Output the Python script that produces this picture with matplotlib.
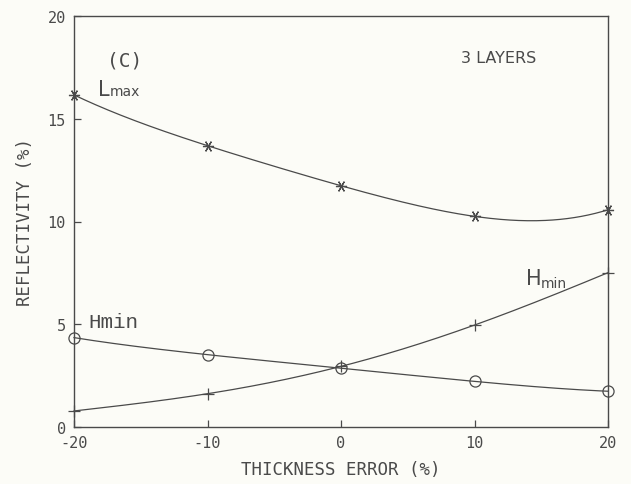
import numpy as np
import matplotlib
matplotlib.use("Agg")
import matplotlib.pyplot as plt

# Data
thickness_error = [-20, -10, 0, 10, 20]
lmax_values = [16.16, 13.69, 11.74, 10.25, 10.57]
hmin_circle_values = [4.35, 3.52, 2.86, 2.22, 1.74]
hmin_plus_values = [0.78, 1.62, 2.95, 4.96, 7.51]
x_ticks = [-20, -10, 0, 10, 20]
y_ticks = [0, 5, 10, 15, 20]

BG = '#fcfcf7'
INK = '#4a4a4a'
MONO = 'DejaVu Sans Mono'

fig = plt.figure(figsize=(6.31, 4.85), dpi=100, facecolor=BG)
ax = fig.add_axes([74/631, 57/485, 534/631, 411/485], facecolor=BG)

def smooth(xs, ys):
    coef = np.polyfit(xs, ys, len(xs) - 1)
    xx = np.linspace(min(xs), max(xs), 300)
    return xx, np.polyval(coef, xx)

for ys, mk, ms, mew in [(lmax_values, (6, 2, 90), 8, 0.9),
                        (hmin_circle_values, 'o', 8, 0.9),
                        (hmin_plus_values, '+', 9, 0.9)]:
    xx, yy = smooth(thickness_error, ys)
    ax.plot(xx, yy, color=INK, lw=0.9, clip_on=False)
    ax.plot(thickness_error, ys, linestyle='none', marker=mk, ms=ms,
            mfc='none' if mk == 'o' else INK, mec=INK, mew=mew, clip_on=False)

ax.set_xlim(-20, 20)
ax.set_ylim(0, 20)
ax.set_xticks(x_ticks)
ax.set_yticks(y_ticks)
ax.set_xticklabels([str(v) for v in x_ticks], family=MONO, fontsize=11, color=INK)
ax.set_yticklabels([str(v) for v in y_ticks], family=MONO, fontsize=11, color=INK)
ax.tick_params(direction='in', length=5, width=0.9, color=INK, pad=6)
for s in ax.spines.values():
    s.set_color(INK)
    s.set_linewidth(1.0)

ax.set_xlabel('THICKNESS ERROR (%)', family=MONO, fontsize=12.5, color=INK, labelpad=7)
ax.set_ylabel('REFLECTIVITY (%)', family=MONO, fontsize=12.5, color=INK, labelpad=10)

# Annotations
ax.text(-16.2, 17.86, '(C)', fontsize=14, color=INK, ha='center', va='center', family=MONO)
ax.text(11.8, 18.0, '3 LAYERS', fontsize=11.5, color=INK, ha='center', va='center', family='DejaVu Sans')
ax.text(-18.2, 16.16, 'L', fontsize=15, color=INK, ha='left', va='baseline', family='DejaVu Sans')
ax.text(-17.3, 16.16, 'max', fontsize=10, color=INK, ha='left', va='baseline', family='DejaVu Sans')
ax.text(-18.95, 4.87, 'Hmin', fontsize=15, color=INK, ha='left', va='baseline', family='Liberation Mono')
ax.text(13.85, 6.96, 'H', fontsize=15, color=INK, ha='left', va='baseline', family='DejaVu Sans')
ax.text(15.0, 6.82, 'min', fontsize=10, color=INK, ha='left', va='baseline', family='DejaVu Sans')

fig.savefig('out.png', dpi=100, facecolor=BG)
